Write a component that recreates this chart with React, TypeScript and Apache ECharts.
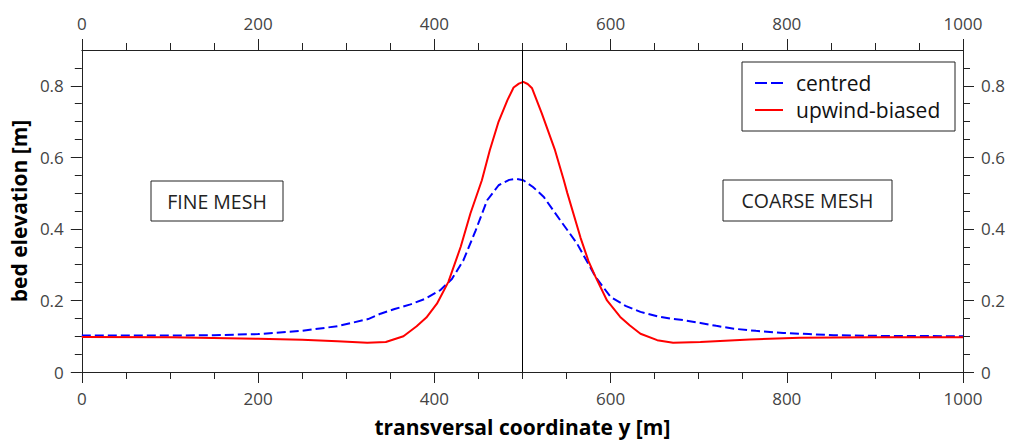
import React, { useEffect, useRef } from "react";
import * as echarts from "echarts";

const centredX = [0, 100, 150, 200, 250, 290, 325, 339, 355, 373, 390, 407, 420, 433, 447, 460, 473, 485, 493, 501, 512, 524, 543, 562, 583, 600, 617, 634, 653, 668, 683, 702, 720, 740, 765, 796, 825, 853, 900, 1000];
const centredY = [0.102, 0.102, 0.103, 0.106, 0.115, 0.128, 0.148, 0.163, 0.176, 0.189, 0.205, 0.229, 0.26, 0.312, 0.396, 0.48, 0.522, 0.537, 0.54, 0.536, 0.517, 0.49, 0.424, 0.359, 0.266, 0.21, 0.185, 0.168, 0.156, 0.149, 0.145, 0.137, 0.129, 0.121, 0.115, 0.109, 0.106, 0.103, 0.101, 0.1];

const upwindX = [0, 100, 200, 250, 290, 324, 345, 365, 380, 391, 403, 416, 430, 441, 454, 463, 473, 483, 490, 496, 501, 506, 511, 522, 537, 547, 551, 566, 575, 583, 596, 611, 622, 634, 653, 671, 702, 758, 815, 900, 1000];
const upwindY = [0.098, 0.097, 0.093, 0.09, 0.086, 0.082, 0.084, 0.1, 0.128, 0.152, 0.191, 0.252, 0.35, 0.443, 0.536, 0.62, 0.7, 0.76, 0.795, 0.806, 0.811, 0.805, 0.793, 0.723, 0.62, 0.536, 0.5, 0.375, 0.31, 0.266, 0.2, 0.154, 0.13, 0.107, 0.089, 0.082, 0.084, 0.091, 0.096, 0.097, 0.097];

const seriesNames = ["centred", "upwind-biased"];
const yMajorTicks = [0, 0.2, 0.4, 0.6, 0.8];
const yMinorTicks = [0.05, 0.1, 0.15, 0.25, 0.3, 0.35, 0.45, 0.5, 0.55, 0.65, 0.7, 0.75, 0.85];
const boxLabels = ["FINE MESH", "COARSE MESH"];
const dividerX = 500;

const FONT = "'Open Sans', 'DejaVu Sans', sans-serif";
const AXIS_COLOR = "#222";
const LABEL_COLOR = "#444";
const BLUE = "#0000ff";
const RED = "#ff0000";

function fmtY(v: number) {
  if (v === 0) return "0";
  return String(Math.round(v * 10) / 10);
}

export default function App() {
  const ref = useRef<HTMLDivElement>(null);
  useEffect(() => {
    if (!ref.current) return;
    const chart = echarts.init(ref.current, undefined, { renderer: "svg" });

    const xAxisBase = (pos: "bottom" | "top") => ({
      type: "value" as const,
      position: pos,
      min: 0,
      max: 1000,
      interval: 200,
      axisLine: { show: true, onZero: false, lineStyle: { color: AXIS_COLOR, width: 1 } },
      axisTick: { show: true, length: 11, lineStyle: { color: AXIS_COLOR, width: 1 } },
      minorTick: { show: true, splitNumber: 4, length: 7, lineStyle: { color: AXIS_COLOR, width: 1 } },
      splitLine: { show: false },
      minorSplitLine: { show: false },
      axisLabel: {
        color: LABEL_COLOR,
        fontSize: 17,
        fontFamily: FONT,
        margin: 18,
        formatter: (v: number) => String(v),
      },
    });

    const yMajor = (pos: "left" | "right", withName: boolean) => ({
      type: "value" as const,
      position: pos,
      min: 0,
      max: 0.9,
      axisLine: { show: true, onZero: false, lineStyle: { color: AXIS_COLOR, width: 1 } },
      axisTick: { show: true, length: 11, customValues: yMajorTicks, lineStyle: { color: AXIS_COLOR, width: 1 } },
      axisLabel: {
        show: true,
        customValues: yMajorTicks,
        formatter: (v: number) => fmtY(v),
        color: LABEL_COLOR,
        fontSize: 17,
        fontFamily: FONT,
        margin: 18,
      },
      splitLine: { show: false },
      name: withName ? "bed elevation [m]" : "",
      nameLocation: "middle" as const,
      nameGap: 47,
      nameTextStyle: { fontSize: 21, fontWeight: "bold" as const, color: "#000", fontFamily: FONT },
    });

    const yMinor = (pos: "left" | "right") => ({
      type: "value" as const,
      position: pos,
      min: 0,
      max: 0.9,
      axisLine: { show: false, onZero: false },
      axisTick: { show: true, length: 7, customValues: yMinorTicks, lineStyle: { color: AXIS_COLOR, width: 1 } },
      axisLabel: { show: false },
      splitLine: { show: false },
    });

    chart.setOption({
      animation: false,
      backgroundColor: "#fff",
      grid: { left: 81, right: 46, top: 50, bottom: 72, containLabel: false },
      xAxis: [
        {
          ...xAxisBase("bottom"),
          name: "transversal coordinate y [m]",
          nameLocation: "middle",
          nameGap: 44,
          nameTextStyle: { fontSize: 21, fontWeight: "bold", color: "#000", fontFamily: FONT },
        },
        xAxisBase("top"),
      ],
      yAxis: [yMajor("left", true), yMinor("left"), yMajor("right", false), yMinor("right")],
      graphic: [
        {
          type: "rect",
          shape: { x: 742, y: 62, width: 213, height: 69 },
          style: { fill: "#fff", stroke: AXIS_COLOR, lineWidth: 1 },
          z: 10,
        },
        {
          type: "line",
          shape: { x1: 755, y1: 83, x2: 783, y2: 83 },
          style: { stroke: BLUE, lineWidth: 2, lineDash: [12, 4] },
          z: 11,
        },
        {
          type: "text",
          x: 796,
          y: 83,
          style: { text: seriesNames[0], fontSize: 21, fontFamily: FONT, fill: "#111", align: "left", verticalAlign: "middle" },
          z: 11,
        },
        {
          type: "line",
          shape: { x1: 755, y1: 110, x2: 783, y2: 110 },
          style: { stroke: RED, lineWidth: 2 },
          z: 11,
        },
        {
          type: "text",
          x: 796,
          y: 110,
          style: { text: seriesNames[1], fontSize: 21, fontFamily: FONT, fill: "#111", align: "left", verticalAlign: "middle" },
          z: 11,
        },
        {
          type: "rect",
          shape: { x: 151, y: 181, width: 132, height: 40 },
          style: { fill: "#fff", stroke: AXIS_COLOR, lineWidth: 1 },
          z: 1,
        },
        {
          type: "text",
          x: 217,
          y: 201,
          style: { text: boxLabels[0], fontSize: 19.5, fontFamily: FONT, fill: "#222", align: "center", verticalAlign: "middle" },
          z: 2,
        },
        {
          type: "rect",
          shape: { x: 723, y: 180, width: 169, height: 41 },
          style: { fill: "#fff", stroke: AXIS_COLOR, lineWidth: 1 },
          z: 1,
        },
        {
          type: "text",
          x: 807.5,
          y: 200.5,
          style: { text: boxLabels[1], fontSize: 19.5, fontFamily: FONT, fill: "#222", align: "center", verticalAlign: "middle" },
          z: 2,
        },
      ],
      series: [
        {
          name: seriesNames[0],
          type: "line",
          xAxisIndex: 0,
          yAxisIndex: 0,
          symbol: "none",
          showSymbol: false,
          data: centredX.map((x, i) => [x, centredY[i]]),
          lineStyle: { color: BLUE, width: 2, type: [9, 4] },
          itemStyle: { color: BLUE },
          z: 3,
        },
        {
          name: seriesNames[1],
          type: "line",
          xAxisIndex: 0,
          yAxisIndex: 0,
          symbol: "none",
          showSymbol: false,
          data: upwindX.map((x, i) => [x, upwindY[i]]),
          lineStyle: { color: RED, width: 2 },
          itemStyle: { color: RED },
          z: 3,
          markLine: {
            silent: true,
            symbol: ["none", "none"],
            label: { show: false },
            lineStyle: { color: "#000", width: 1, type: "solid" },
            data: [{ xAxis: dividerX }],
          },
        },
      ],
    });
    return () => chart.dispose();
  }, []);

  return (
    <div
      ref={ref}
      style={{ position: "absolute", left: 0, top: 0, width: 1009, height: 444 }}
    />
  );
}
